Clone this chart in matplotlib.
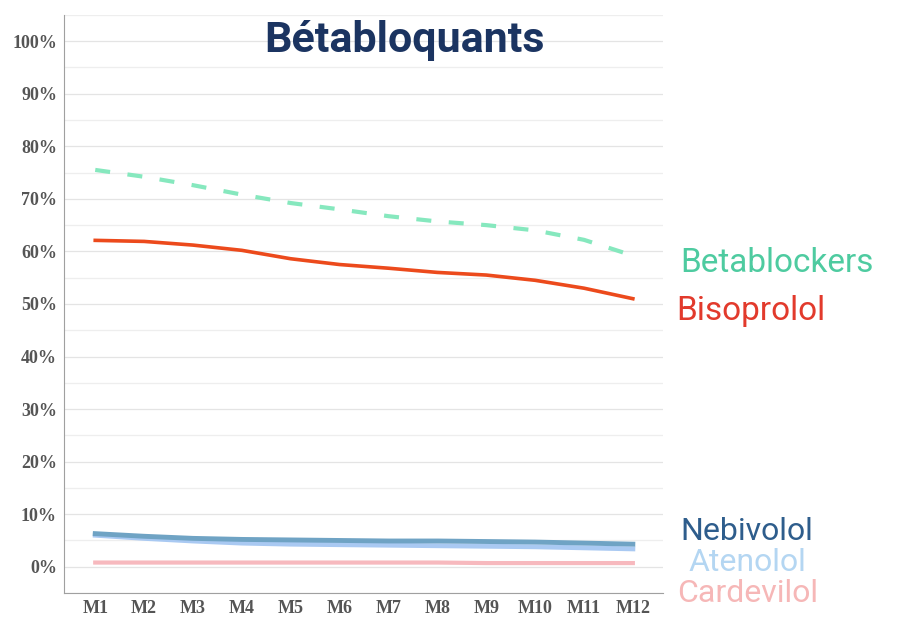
import numpy as np
import matplotlib.pyplot as plt
from matplotlib.ticker import MultipleLocator, FuncFormatter

# données (%)
mois = ['M1', 'M2', 'M3', 'M4', 'M5', 'M6', 'M7', 'M8', 'M9', 'M10', 'M11', 'M12']
betablockers = [75.5, 74.2, 72.6, 70.8, 69.2, 68.0, 66.7, 65.7, 65.0, 64.0, 62.2, 59.2]
bisoprolol = [62.1, 61.9, 61.2, 60.2, 58.6, 57.5, 56.8, 56.0, 55.5, 54.5, 53.0, 51.0]
nebivolol = [6.3, 5.8, 5.4, 5.2, 5.1, 5.0, 4.9, 4.9, 4.8, 4.7, 4.5, 4.3]
atenolol = [6.0, 5.4, 4.9, 4.5, 4.3, 4.2, 4.1, 4.0, 3.9, 3.8, 3.6, 3.4]
cardevilol = [0.8, 0.8, 0.8, 0.8, 0.8, 0.8, 0.8, 0.8, 0.7, 0.7, 0.7, 0.7]

x = np.arange(1, len(mois) + 1)

fig = plt.figure(figsize=(8.97, 6.2), dpi=100)
ax = fig.add_axes([0.0713, 0.0435, 0.668, 0.9325])

ax.plot(x, cardevilol, c='#f7b9be', lw=3)
ax.plot(x, atenolol, c='#a9c9f2', lw=3.5)
ax.plot(x, nebivolol, c='#6fa3c4', lw=3.5)
ax.plot(x, bisoprolol, c='#ec4a1c', lw=2.6)
ax.plot(x, betablockers, c='#86e8be', lw=3, ls=(0, (3.6, 4.2)))

ax.set_xlim(0.36, 12.62)
ax.set_ylim(-5, 105)
ax.yaxis.set_major_locator(MultipleLocator(10))
ax.yaxis.set_minor_locator(MultipleLocator(5))
ax.yaxis.set_major_formatter(FuncFormatter(lambda v, p: f'{v:.0f}%' if 0 <= v <= 100 else ''))
ax.set_xticks(x)
ax.set_xticklabels(mois)

ax.grid(True, which='major', axis='y', color='#e4e4e4', lw=0.9)
ax.grid(True, which='minor', axis='y', color='#eeeeee', lw=0.9)
ax.set_axisbelow(True)

for s in ['top', 'right']:
    ax.spines[s].set_visible(False)
ax.spines['left'].set_color('#a0a0a0')
ax.spines['bottom'].set_color('#a0a0a0')
ax.tick_params(axis='both', which='both', length=0, pad=5)
for lab in ax.get_xticklabels() + ax.get_yticklabels():
    lab.set_family('Liberation Serif')
    lab.set_fontweight('bold')
    lab.set_color('#555555')
    lab.set_fontsize(13)

ax.text(0.569, 0.992, 'Bétabloquants', transform=ax.transAxes, ha='center', va='top',
        fontsize=31, fontweight='bold', color='#1b3461', family='Roboto')

# étiquettes à droite (position de la ligne de base)
etiquettes = [('Betablockers', 12.96, 56.0, '#4ecba0', 24),
              ('Bisoprolol', 12.88, 47.0, '#e23a2c', 24),
              ('Nebivolol', 12.98, 5.1, '#2e5d8c', 23),
              ('Atenolol', 13.13, -0.9, '#b4d6f2', 23),
              ('Cardevilol', 12.90, -6.8, '#f6b7b7', 23)]
for nom, xv, yv, col, fs in etiquettes:
    ax.text(xv, yv, nom, ha='left', va='baseline', fontsize=fs,
            color=col, family='Roboto', clip_on=False)

fig.savefig('out.png', dpi=100, facecolor='white')
